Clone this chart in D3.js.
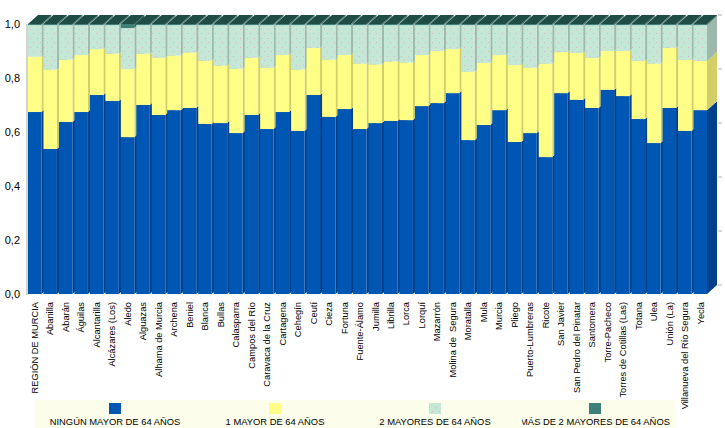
<!DOCTYPE html>
<html><head><meta charset="utf-8">
<script src="https://cdn.jsdelivr.net/npm/d3@7/dist/d3.min.js"></script>
<style>
html,body{margin:0;padding:0;background:#fff;}
svg{display:block;font-family:"Liberation Sans",Arial,sans-serif;}
</style></head>
<body>
<svg id="chart" width="725" height="428"></svg>
<script>
const categories = ["REGIÓN DE MURCIA","Abanilla","Abarán","Águilas","Alcantarilla","Alcázares (Los)","Aledo","Alguazas","Alhama de Murcia","Archena","Beniel","Blanca","Bullas","Calasparra","Campos del Río","Caravaca de la Cruz","Cartagena","Cehegín","Ceutí","Cieza","Fortuna","Fuente-Álamo","Jumilla","Librilla","Lorca","Lorquí","Mazarrón","Molina de  Segura","Moratalla","Mula","Murcia","Pliego","Puerto-Lumbreras","Ricote","San Javier","San Pedro del Pinatar","Santomera","Torre-Pacheco","Torres de Cotillas (Las)","Totana","Ulea","Unión (La)","Villanueva del Río Segura","Yecla"];
const ningun = [0.674,0.537,0.637,0.674,0.737,0.715,0.581,0.700,0.663,0.681,0.689,0.630,0.633,0.596,0.663,0.611,0.674,0.604,0.737,0.656,0.685,0.611,0.633,0.641,0.644,0.696,0.707,0.744,0.570,0.626,0.681,0.563,0.596,0.507,0.744,0.719,0.689,0.756,0.733,0.648,0.559,0.689,0.604,0.681];
const uno = [0.205,0.294,0.231,0.211,0.170,0.175,0.252,0.190,0.212,0.202,0.205,0.234,0.213,0.238,0.212,0.227,0.211,0.227,0.174,0.212,0.200,0.242,0.217,0.220,0.213,0.189,0.193,0.163,0.253,0.230,0.204,0.285,0.242,0.346,0.152,0.174,0.185,0.144,0.167,0.215,0.294,0.223,0.263,0.182];
const dos = [0.117,0.165,0.128,0.111,0.089,0.106,0.152,0.106,0.121,0.113,0.102,0.132,0.150,0.162,0.121,0.158,0.111,0.165,0.085,0.128,0.111,0.143,0.146,0.135,0.139,0.111,0.096,0.089,0.173,0.140,0.111,0.148,0.158,0.143,0.100,0.103,0.122,0.096,0.096,0.133,0.143,0.084,0.129,0.133];
const mas = [0.004,0.004,0.004,0.004,0.004,0.004,0.015,0.004,0.004,0.004,0.004,0.004,0.004,0.004,0.004,0.004,0.004,0.004,0.004,0.004,0.004,0.004,0.004,0.004,0.004,0.004,0.004,0.004,0.004,0.004,0.004,0.004,0.004,0.004,0.004,0.004,0.004,0.004,0.004,0.004,0.004,0.004,0.004,0.004];
const seriesNames = ["NINGÚN MAYOR DE 64 AÑOS","1 MAYOR DE 64 AÑOS","2 MAYORES DE 64 AÑOS","MÁS DE 2 MAYORES DE 64 AÑOS"];
const yTicks = [0,0.2,0.4,0.6,0.8,1.0];

const keys = ["ningun","uno","dos","mas"];
const rows = categories.map((c,i)=>({cat:c, ningun:ningun[i], uno:uno[i], dos:dos[i], mas:mas[i]}));
const front = ["#0057b3","#ffff88","url(#dots)","#3d8078"];
const swatch = ["#0057b3","#ffff88","url(#dots)","#3d8078"];
const side  = ["#003f8c","#d2cf6a","#9db9ac","#2d615a"];
const topc  = ["#003f8c","#d2cf6a","#9db9ac","#1f4d46"];

const svg = d3.select("#chart");
const defs = svg.append("defs");
const pat = defs.append("pattern").attr("id","dots").attr("patternUnits","userSpaceOnUse")
  .attr("width",7).attr("height",9);
pat.append("rect").attr("width",7).attr("height",9).attr("fill","#c5e7d6");
pat.append("rect").attr("x",2).attr("y",2).attr("width",1).attr("height",1).attr("fill","#dcb6c6");
pat.append("rect").attr("x",5).attr("y",6).attr("width",1).attr("height",1).attr("fill","#dcb6c6");

const y = d3.scaleLinear().domain([0,1]).range([294,24]);
const x = d3.scaleBand().domain(categories).range([28,707]).paddingInner(0.13).paddingOuter(0);
const dx = 10, dy = 9;

const stacked = d3.stack().keys(keys)(rows);

// y axis line
svg.append("line").attr("x1",27).attr("x2",27).attr("y1",24).attr("y2",295)
  .attr("stroke","#a8a89c").attr("stroke-width",1);

const bars = svg.append("g");
categories.forEach((c,i)=>{
  const g = bars.append("g");
  const x0 = x(c), x1 = x(c)+x.bandwidth();
  stacked.forEach((s,k)=>{
    const d = s[i];
    const yb = y(d[0]), yt = y(d[1]);
    if (yb - yt <= 0) return;
    g.append("path")
      .attr("d",`M${x1},${yt}L${x1+dx},${yt-dy}L${x1+dx},${yb-dy}L${x1},${yb}Z`)
      .attr("fill",side[k]);
    g.append("rect").attr("x",x0).attr("y",yt).attr("width",x1-x0).attr("height",yb-yt)
      .attr("fill",front[k]);
  });
  const last = stacked[stacked.length-1][i];
  const yt = y(last[1]);
  g.append("path")
    .attr("d",`M${x0},${yt}L${x1},${yt}L${x1+dx},${yt-dy}L${x0+dx},${yt-dy}Z`)
    .attr("fill",topc[3]);
});

// right tick marks
svg.append("g").selectAll("line").data(yTicks).join("line")
  .attr("x1",718).attr("x2",722).attr("y1",d=>y(d)-dy).attr("y2",d=>y(d)-dy)
  .attr("stroke","#b0b0a8");

// y labels
const loc = d3.formatLocale({decimal:",",thousands:".",grouping:[3],currency:["","€"]});
const yAxis = d3.axisLeft(y).tickValues(yTicks).tickFormat(loc.format(".1f")).tickSize(0).tickPadding(0);
const ga = svg.append("g").attr("transform","translate(20,0)").call(yAxis);
ga.select(".domain").remove();
ga.selectAll("text").attr("font-size","11px").attr("fill","#000").attr("font-family","Liberation Sans, Arial, sans-serif");

// x labels
const xAxis = d3.axisBottom(x).tickSize(0).tickPadding(0);
const gx = svg.append("g").attr("transform","translate(0,302)").call(xAxis);
gx.select(".domain").remove();
gx.selectAll("text").attr("transform","rotate(-90)").attr("text-anchor","end")
  .attr("x",0).attr("y",0).attr("dy","0.35em")
  .attr("font-size","9.3px").attr("fill","#000").attr("font-family","Liberation Sans, Arial, sans-serif")
  .style("white-space","pre");

// legend
const lg = svg.append("g");
lg.append("rect").attr("x",35).attr("y",400).attr("width",640).attr("height",28).attr("fill","#fdfdec");
defs.append("clipPath").attr("id","lclip").append("rect").attr("x",522).attr("y",395).attr("width",200).attr("height",40);
const cellW = 160;
seriesNames.forEach((n,k)=>{
  const cx = 35 + cellW*k + cellW/2;
  lg.append("rect").attr("x",cx-6).attr("y",403).attr("width",12).attr("height",11).attr("fill",swatch[k]);
  const t = lg.append("text").attr("x",cx).attr("y",425).attr("text-anchor","middle")
    .attr("font-size","9.4px").attr("fill","#000").text(n);
  if (k===3) t.attr("clip-path","url(#lclip)");
});
</script>
</body></html>
